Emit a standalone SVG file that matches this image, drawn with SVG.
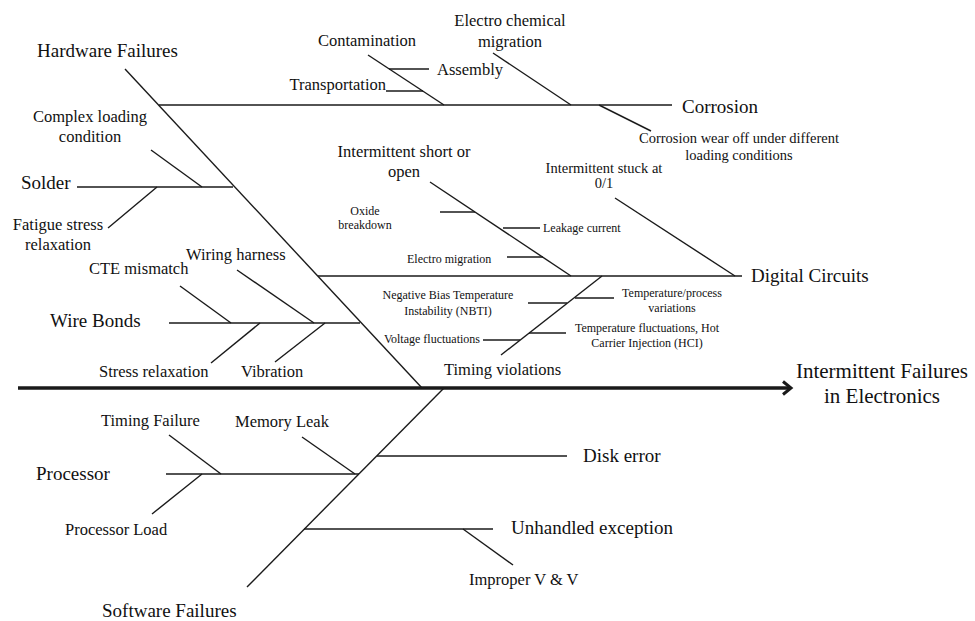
<svg xmlns="http://www.w3.org/2000/svg" width="975" height="621" viewBox="0 0 975 621">
<style>
text{font-family:"Liberation Serif","Times New Roman",serif;fill:#111}
.L{font-size:19px}
.M{font-size:16.5px}
.S{font-size:12px}
.K{font-size:14.5px}
.X{font-size:21px}
line{stroke:#1a1a1a;stroke-width:1.4;fill:none}
.c{text-anchor:middle}
.e{text-anchor:end}
</style>
<rect width="975" height="621" fill="#fff"/>
<g id="connectors">
<line x1="18" y1="388" x2="790" y2="388" style="stroke-width:3.5"/>
<polyline points="783,381.5 791,388 783,394.5" fill="none" stroke="#1a1a1a" stroke-width="3" stroke-linejoin="miter"/>
<line x1="125" y1="69" x2="422" y2="388"/>
<line x1="247" y1="587" x2="444" y2="388"/>
</g>
<g id="hardware-failures"><text class="L" x="37" y="57">Hardware Failures</text></g>
<g id="corrosion">
<line x1="159" y1="105" x2="672" y2="105"/>
<text class="L" x="682" y="113">Corrosion</text>
<line x1="368" y1="55" x2="444" y2="105"/>
<text class="M c" x="367" y="46">Contamination</text>
<line x1="389" y1="69" x2="429" y2="69"/>
<text class="M" x="437" y="75">Assembly</text>
<line x1="386" y1="91" x2="423" y2="91"/>
<text class="M e" x="386" y="90">Transportation</text>
<line x1="493" y1="53" x2="571" y2="105"/>
<text class="M c" x="510" y="26">Electro chemical</text>
<text class="M c" x="510" y="47">migration</text>
<line x1="599" y1="105" x2="651" y2="131"/>
<text class="K c" x="739" y="143">Corrosion wear off under different</text>
<text class="K c" x="739" y="160">loading conditions</text>
</g>
<g id="solder">
<line x1="77" y1="187" x2="233" y2="187"/>
<text class="L" x="21" y="189">Solder</text>
<line x1="151" y1="150" x2="202" y2="187"/>
<text class="M c" x="90" y="122">Complex loading</text>
<text class="M c" x="90" y="142">condition</text>
<line x1="157" y1="187" x2="108" y2="228"/>
<text class="M c" x="58" y="230">Fatigue stress</text>
<text class="M c" x="58" y="250">relaxation</text>
</g>
<g id="wire-bonds">
<line x1="169" y1="323" x2="360" y2="323"/>
<text class="L" x="50" y="327">Wire Bonds</text>
<line x1="180" y1="286" x2="231" y2="323"/>
<text class="M" x="89" y="274">CTE mismatch</text>
<line x1="237" y1="270" x2="314" y2="323"/>
<text class="M" x="186" y="260">Wiring harness</text>
<line x1="260" y1="323" x2="211" y2="363"/>
<text class="M" x="99" y="377">Stress relaxation</text>
<line x1="325" y1="323" x2="275" y2="362"/>
<text class="M" x="241" y="377">Vibration</text>
</g>
<g id="digital-circuits">
<line x1="318" y1="276" x2="742" y2="276"/>
<text class="L" x="751" y="282">Digital Circuits</text>
<line x1="430" y1="182" x2="571" y2="276"/>
<text class="M c" x="404" y="157">Intermittent short or</text>
<text class="M c" x="404" y="177">open</text>
<line x1="440" y1="212" x2="475" y2="212"/>
<text class="S c" x="365" y="215">Oxide</text>
<text class="S c" x="365" y="229">breakdown</text>
<line x1="503" y1="228" x2="540" y2="228"/>
<text class="S" x="543" y="232">Leakage current</text>
<line x1="507" y1="257" x2="543" y2="257"/>
<text class="S" x="407" y="263">Electro migration</text>
<line x1="615" y1="198" x2="735" y2="276"/>
<text class="K c" x="604" y="173">Intermittent stuck at</text>
<text class="K c" x="604" y="188">0/1</text>
</g>
<g id="timing-violations">
<line x1="602" y1="276" x2="501" y2="355"/>
<text class="M" x="444" y="375">Timing violations</text>
<line x1="528" y1="303" x2="567" y2="303"/>
<text class="S c" x="448" y="299">Negative Bias Temperature</text>
<text class="S c" x="448" y="315">Instability (NBTI)</text>
<line x1="483" y1="340" x2="520" y2="340"/>
<text class="S e" x="480" y="343">Voltage fluctuations</text>
<line x1="575" y1="298" x2="614" y2="298"/>
<text class="S c" x="672" y="297">Temperature/process</text>
<text class="S c" x="672" y="312">variations</text>
<line x1="529" y1="333" x2="566" y2="333"/>
<text class="S c" x="647" y="332">Temperature fluctuations, Hot</text>
<text class="S c" x="647" y="347">Carrier Injection (HCI)</text>
</g>
<g id="effect">
<text class="X c" x="882" y="378">Intermittent Failures</text>
<text class="X c" x="882" y="403">in Electronics</text>
</g>
<g id="disk-error">
<line x1="377" y1="456" x2="567" y2="456"/>
<text class="L" x="583" y="462">Disk error</text>
</g>
<g id="processor">
<line x1="166" y1="474" x2="359" y2="474"/>
<text class="L" x="36" y="480">Processor</text>
<line x1="169" y1="435" x2="221" y2="474"/>
<text class="M" x="101" y="426">Timing Failure</text>
<line x1="302" y1="437" x2="355" y2="474"/>
<text class="M" x="235" y="427">Memory Leak</text>
<line x1="202" y1="474" x2="152" y2="514"/>
<text class="M" x="65" y="535">Processor Load</text>
</g>
<g id="unhandled-exception">
<line x1="304" y1="529" x2="493" y2="529"/>
<text class="L" x="511" y="534">Unhandled exception</text>
<line x1="463" y1="529" x2="513" y2="565"/>
<text class="M" x="469" y="585">Improper V &amp; V</text>
</g>
<g id="software-failures"><text class="L" x="102" y="617">Software Failures</text></g>
</svg>
